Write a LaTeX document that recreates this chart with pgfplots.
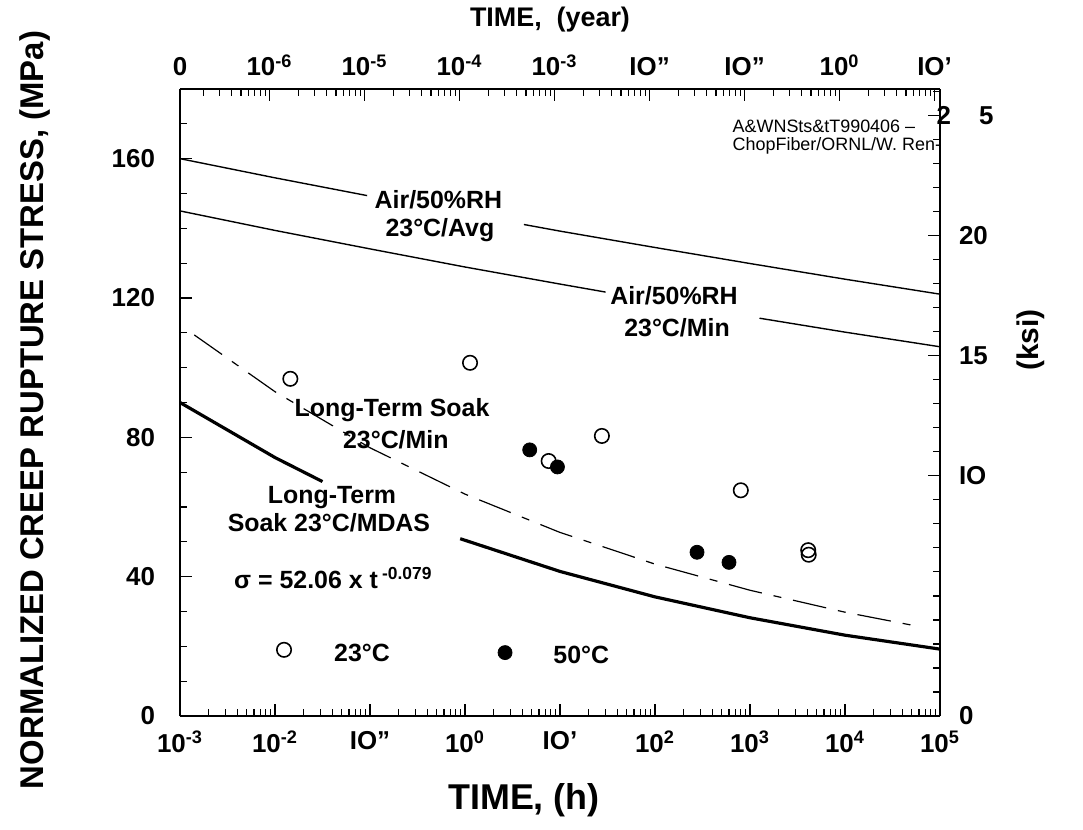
\documentclass[border=0pt]{standalone}
\usepackage{fontspec}
\setmainfont{Liberation Sans}
\usepackage{pgfplots}
\pgfplotsset{compat=1.18}
\newcommand{\sps}[1]{\textsuperscript{#1}}
\begin{document}
\begin{tikzpicture}[font=\bfseries]
% bottom (h) and left (MPa)
\begin{axis}[
    scale only axis, width=380bp, height=313.5bp,
    xmode=log, xmin=1e-3, xmax=1e5, ymin=0, ymax=180,
    axis x line*=bottom, axis y line*=left,
    axis line style={-, line width=1.1pt},
    tick align=inside, major tick length=6bp, minor tick length=3.5bp,
    tick style={black, line width=0.6pt},
    xtick={1e-3,1e-2,1e-1,1,1e1,1e2,1e3,1e4,1e5},
    minor xtick={2e-3,3e-3,4e-3,5e-3,6e-3,7e-3,8e-3,9e-3,
                 2e-2,3e-2,4e-2,5e-2,6e-2,7e-2,8e-2,9e-2,
                 0.2,0.3,0.4,0.5,0.6,0.7,0.8,0.9,
                 2,3,4,5,6,7,8,9,20,30,40,50,60,70,80,90,
                 200,300,400,500,600,700,800,900,
                 2e3,3e3,4e3,5e3,6e3,7e3,8e3,9e3,
                 2e4,3e4,4e4,5e4,6e4,7e4,8e4,9e4},
    xticklabels={10\sps{-3},10\sps{-2},IO'',10\sps{0},IO',10\sps{2},10\sps{3},10\sps{4},10\sps{5}},
    ytick={0,40,80,120,160}, minor ytick={10,20,30,50,60,70,90,100,110,130,140,150,170},
    yticklabels={0,40,80,120,160},
    ticklabel style={font=\bfseries\fontsize{13}{13}\selectfont},
    xticklabel style={yshift=-4bp},
    yticklabel style={xshift=-9bp},
    clip=false,
]
% Air/50%RH 23C/Avg
\addplot[black, line width=0.7pt] coordinates {(1e-3,160)(1e-2,154.5)(0.0933,149.4)};
\addplot[black, line width=0.7pt] coordinates {(4.17,141.1)(10,139.2)(100,134.5)(1000,129.9)(1e4,125.4)(1e5,121.1)};
% Air/50%RH 23C/Min
\addplot[black, line width=0.7pt] coordinates {(1e-3,145)(1e-2,139.4)(0.1,134.1)(1,128.9)(10,124.0)(30.2,121.7)};
\addplot[black, line width=0.7pt] coordinates {(1259,114.2)(1e4,110.2)(1e5,106.0)};
% Long-Term Soak 23C/Min (dashed)
\addplot[black, line width=0.6pt, dash pattern=on 17bp off 6bp on 4bp off 6bp]
    coordinates {(1.413e-3,109.4)(1e-2,93.1)(0.1,77.0)(1,63.7)(10,52.7)(100,43.6)(1000,36.1)(1e4,29.8)(5.01e4,26.1)};
% Long-Term Soak 23C/MDAS (thick)
\addplot[black, line width=1.6pt] coordinates {(1e-3,90)(1e-2,74.2)(0.0316,67.3)};
\addplot[black, line width=1.6pt] coordinates {(0.891,50.9)(10,41.5)(100,34.2)(1000,28.2)(1e4,23.2)(1e5,19.2)};
% 23C data
\addplot[only marks, mark=o, mark size=3.6bp, mark options={line width=0.8pt}]
    coordinates {(0.0145,96.8)(1.13,101.4)(7.6,73.2)(27.6,80.4)(800,64.8)(4100,47.6)(4150,46.3)(0.01245,19.0)};
% 50C data
\addplot[only marks, mark=*, mark size=3.5bp, fill=black]
    coordinates {(4.8,76.4)(9.4,71.5)(277,47.0)(601,44.1)(2.64,18.2)};
\begin{scope}[font=\bfseries\fontsize{12.5}{13}\selectfont]
\node at (rel axis cs:0.340,0.823) {Air/50\%RH};
\node at (rel axis cs:0.342,0.775) {23°C/Avg};
\node at (rel axis cs:0.650,0.671) {Air/50\%RH};
\node at (rel axis cs:0.654,0.620) {23°C/Min};
\node at (rel axis cs:0.279,0.488) {Long-Term Soak};
\node at (rel axis cs:0.284,0.440) {23°C/Min};
\node at (rel axis cs:0.200,0.348) {Long-Term};
\node at (rel axis cs:0.196,0.309) {Soak 23°C/MDAS};
\node[anchor=west] at (rel axis cs:0.062,0.220) {σ = 52.06 x t\,\textsuperscript{-0.079}};
\node at (rel axis cs:0.2395,0.100) {23°C};
\node at (rel axis cs:0.528,0.097) {50°C};
\end{scope}
\node[anchor=west, font=\normalfont\fontsize{9}{10}\selectfont] at (rel axis cs:0.718,0.940) {A\&WNSts\&tT990406 --};
\node[anchor=west, font=\normalfont\fontsize{9}{10}\selectfont] at (rel axis cs:0.718,0.910) {ChopFiber/ORNL/W. Ren-};
\end{axis}
% top (year) and right (ksi)
\begin{axis}[
    scale only axis, width=380bp, height=313.5bp,
    xmode=log, xmin=1.1408e-7, xmax=11.408, ymin=0, ymax=26.106,
    axis x line*=top, axis y line*=right,
    axis line style={-, line width=1.1pt},
    tick align=inside, major tick length=6bp, minor tick length=3.5bp,
    tick style={black, line width=0.6pt},
    xtick={1e-6,1e-5,1e-4,1e-3,1e-2,1e-1,1,10},
    minor xtick={2e-7,3e-7,4e-7,5e-7,6e-7,7e-7,8e-7,9e-7,
                 2e-6,3e-6,4e-6,5e-6,6e-6,7e-6,8e-6,9e-6,
                 2e-5,3e-5,4e-5,5e-5,6e-5,7e-5,8e-5,9e-5,
                 2e-4,3e-4,4e-4,5e-4,6e-4,7e-4,8e-4,9e-4,
                 2e-3,3e-3,4e-3,5e-3,6e-3,7e-3,8e-3,9e-3,
                 2e-2,3e-2,4e-2,5e-2,6e-2,7e-2,8e-2,9e-2,
                 0.2,0.3,0.4,0.5,0.6,0.7,0.8,0.9,2,3,4,5,6,7,8,9},
    xticklabels={10\sps{-6},10\sps{-5},10\sps{-4},10\sps{-3},IO'',IO'',10\sps{0},IO'},
    extra x ticks={1.1408e-7}, extra x tick labels={0},
    ytick={0,10,15,20,25}, minor ytick={1,...,26},
    yticklabels={0,IO,15,20,\llap{2\hspace{4bp}}\hspace{10bp}5},
    ticklabel style={font=\bfseries\fontsize{13}{13}\selectfont},
    xticklabel style={yshift=3bp},
    yticklabel style={xshift=6bp},
]
\addplot[draw=none] coordinates {(1e-6,1)};
\end{axis}
\node[rotate=90, font=\bfseries\fontsize{16.5}{17}\selectfont] at (-72.5bp,153bp) {NORMALIZED CREEP RUPTURE STRESS, (MPa)};
\node[font=\bfseries\fontsize{18}{19}\selectfont] at (172bp,-42bp) {TIME, (h)};
\node[font=\bfseries\fontsize{13.5}{14}\selectfont] at (185bp,348bp) {TIME,\ \ (year)};
\node[rotate=90, font=\bfseries\fontsize{15}{16}\selectfont] at (425.5bp,188bp) {(ksi)};
\pgfresetboundingbox
\path[use as bounding box] (-90bp,-57bp) rectangle (451.5bp,358bp);
\end{tikzpicture}
\end{document}
